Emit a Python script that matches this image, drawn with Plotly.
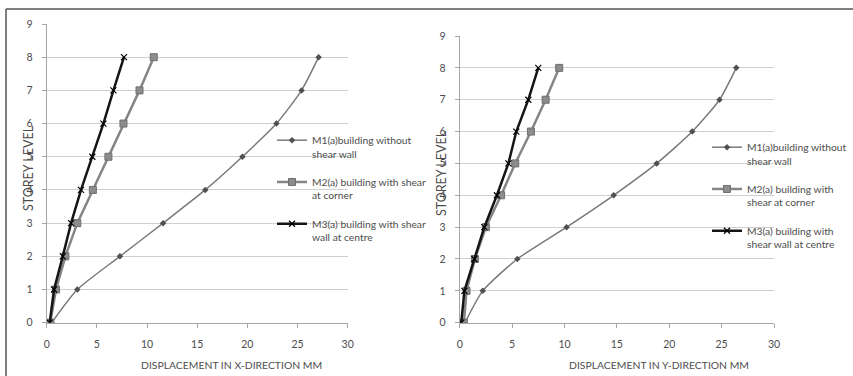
import plotly.graph_objects as go

W, H = 853, 376

storey = [0, 1, 2, 3, 4, 5, 6, 7, 8]

# Displacement in X-direction (mm)
x_m1 = [0.5, 3.05, 7.3, 11.6, 15.8, 19.5, 22.9, 25.4, 27.1]
x_m2 = [0.35, 0.93, 1.86, 3.05, 4.6, 6.15, 7.65, 9.25, 10.67]
x_m3 = [0.3, 0.73, 1.6, 2.43, 3.42, 4.55, 5.65, 6.65, 7.7]

# Displacement in Y-direction (mm)
y_m1 = [0.5, 2.2, 5.5, 10.2, 14.7, 18.8, 22.2, 24.8, 26.4]
y_m2 = [0.4, 0.65, 1.45, 2.5, 3.95, 5.3, 6.8, 8.2, 9.5]
y_m3 = [0.15, 0.45, 1.4, 2.35, 3.55, 4.65, 5.4, 6.55, 7.5]

names_left = ["M1(a)building without<br>shear wall",
              "M2(a) building with shear<br>at corner",
              "M3(a) building with shear<br>wall at centre"]
names_right = ["M1(a)building without<br>shear wall",
               "M2(a) building with<br>shear at corner",
               "M3(a) building with<br>shear wall at centre"]

x_ticks = [0, 5, 10, 15, 20, 25, 30]
y_ticks = [0, 1, 2, 3, 4, 5, 6, 7, 8, 9]

FONT = "Lato"
TXT = "#4d4d4d"

styles = [
    dict(line=dict(color="#7a7a7a", width=1.5, shape="spline", smoothing=0.6),
         marker=dict(symbol="diamond", size=5, color="#505050")),
    dict(line=dict(color="#858585", width=2.5),
         marker=dict(symbol="square", size=7, color="#8c8c8c",
                     line=dict(color="#6e6e6e", width=1))),
    dict(line=dict(color="#151515", width=2.5),
         marker=dict(symbol="x-thin", size=6, color="#000000",
                     line=dict(color="#000000", width=1.2))),
]

fig = go.Figure()
for i, (xs, nm) in enumerate(zip([x_m1, x_m2, x_m3], names_left)):
    fig.add_trace(go.Scatter(x=xs, y=storey, mode="lines+markers", name=nm,
                             xaxis="x", yaxis="y", legend="legend",
                             legendgroup=f"l{i}", **styles[i]))
for i, (xs, nm) in enumerate(zip([y_m1, y_m2, y_m3], names_right)):
    fig.add_trace(go.Scatter(x=xs, y=storey, mode="lines+markers", name=nm,
                             xaxis="x2", yaxis="y2", legend="legend2",
                             legendgroup=f"r{i}", **styles[i]))

def px(v):
    return v / W

def py(v):
    return 1 - v / H

common_x = dict(range=[0, 30], tickvals=x_ticks, showgrid=False, zeroline=False,
                showline=True, linecolor="#a6a6a6", linewidth=1,
                ticks="outside", ticklen=4, tickcolor="#a6a6a6",
                ticklabelstandoff=8,
                tickfont=dict(family=FONT, size=10.5, color=TXT), fixedrange=True)
common_y = dict(range=[0, 9], tickvals=y_ticks, showgrid=True, gridcolor="#cfcfcf",
                gridwidth=1, zeroline=False, showline=True, linecolor="#a6a6a6",
                linewidth=1, ticks="outside", ticklen=4, tickcolor="#a6a6a6",
                ticklabelstandoff=7,
                tickfont=dict(family=FONT, size=10.5, color=TXT), fixedrange=True)

legend_common = dict(font=dict(family=FONT, size=10.3, color=TXT),
                     bgcolor="rgba(0,0,0,0)", tracegroupgap=12,
                     valign="top", itemwidth=30, xanchor="left", yanchor="top")

ann_font = dict(family=FONT, size=10.4, color=TXT)
ytitle_font = dict(family=FONT, size=12.5, color=TXT)

fig.update_layout(
    width=W, height=H,
    margin=dict(l=0, r=0, t=0, b=0, autoexpand=False),
    paper_bgcolor="white", plot_bgcolor="white",
    xaxis=dict(domain=[px(46.7), px(347.7)], anchor="y", **common_x),
    yaxis=dict(domain=[py(322.7), py(24)], anchor="x", **common_y),
    xaxis2=dict(domain=[px(459.7), px(774)], anchor="y2", **common_x),
    yaxis2=dict(domain=[py(322.7), py(36)], anchor="x2", **common_y),
    legend=dict(x=px(272), y=py(127), **legend_common),
    legend2=dict(x=px(707), y=py(134), **legend_common),
    showlegend=True,
    annotations=[
        dict(text="DISPLACEMENT IN X-DIRECTION MM", xref="paper", yref="paper",
             x=px(231), y=py(365), xanchor="center", yanchor="middle",
             showarrow=False, font=ann_font),
        dict(text="DISPLACEMENT IN Y-DIRECTION MM", xref="paper", yref="paper",
             x=px(659), y=py(365), xanchor="center", yanchor="middle",
             showarrow=False, font=ann_font),
        dict(text="STOREY LEVEL", xref="paper", yref="paper", textangle=-90,
             x=px(28), y=py(168), xanchor="center", yanchor="middle",
             showarrow=False, font=ytitle_font),
        dict(text="STOREY LEVEL", xref="paper", yref="paper", textangle=-90,
             x=px(441), y=py(173), xanchor="center", yanchor="middle",
             showarrow=False, font=ytitle_font),
    ],
    shapes=[
        dict(type="line", xref="paper", yref="paper", x0=px(6), x1=1,
             y0=py(9), y1=py(9), line=dict(color="#555555", width=1.5)),
        dict(type="line", xref="paper", yref="paper", x0=px(6), x1=px(6),
             y0=py(9), y1=0, line=dict(color="#555555", width=1.5)),
    ],
)

fig.write_html("out.html")
